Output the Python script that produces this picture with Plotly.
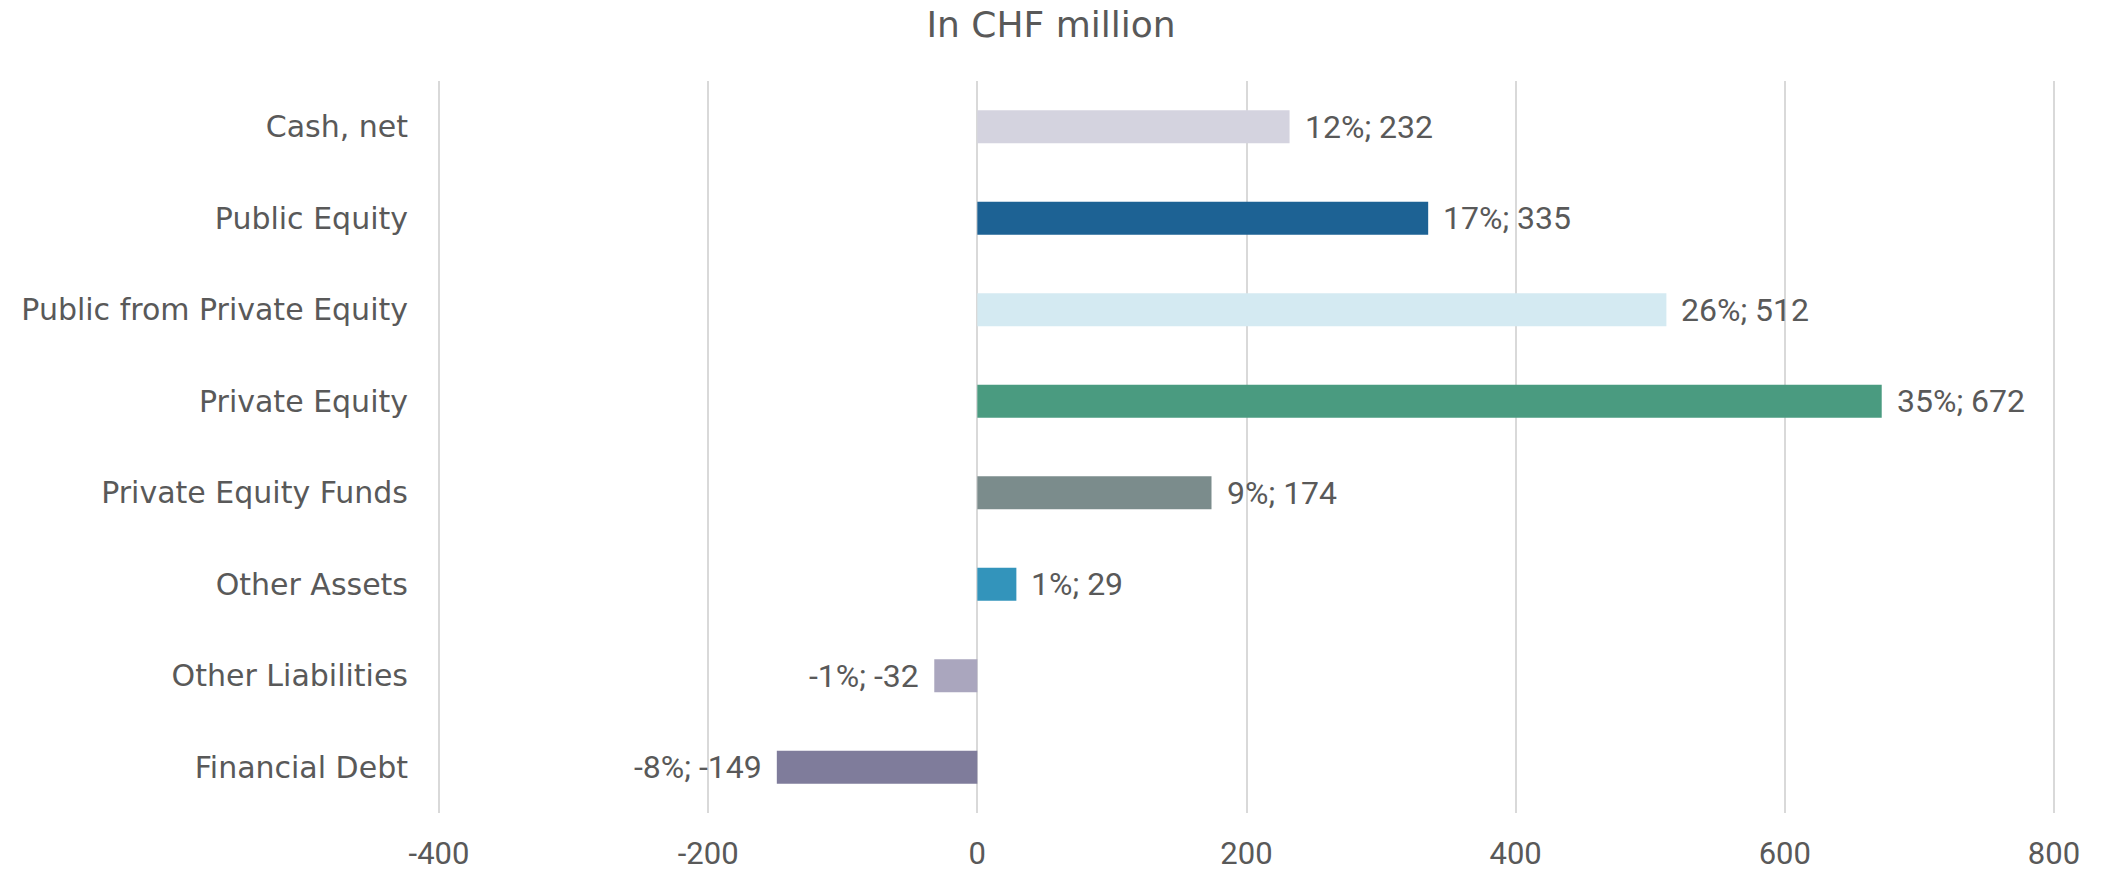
import plotly.graph_objects as go

# Net asset value breakdown
categories = [
    "Cash, net",
    "Public Equity",
    "Public from Private Equity",
    "Private Equity",
    "Private Equity Funds",
    "Other Assets",
    "Other Liabilities",
    "Financial Debt",
]
values = [232, 335, 512, 672, 174, 29, -32, -149]
shares = [12, 17, 26, 35, 9, 1, -1, -8]
colors = ["#D4D3DF", "#1D6294", "#D4EAF2", "#4A9B80",
          "#7B8C8C", "#3394BB", "#AAA6BE", "#7F7C9B"]
x_ticks = [-400, -200, 0, 200, 400, 600, 800]

TEXT_GRAY = "#595959"
GRID_GRAY = "#D9D9D9"

fig = go.Figure()
fig.add_trace(go.Bar(
    y=categories,
    x=values,
    orientation="h",
    marker_color=colors,
    marker_line_width=0,
    width=0.36,
    showlegend=False,
))

# value labels next to each bar
for cat, v, s in zip(categories, values, shares):
    fig.add_annotation(
        x=v, y=cat,
        text=f"{s}%; {v}",
        showarrow=False,
        xanchor="left" if v >= 0 else "right",
        xshift=13 if v >= 0 else -13,
        font=dict(family="Roboto", size=32, color=TEXT_GRAY),
    )

fig.update_layout(
    width=2102, height=873,
    margin=dict(l=437, r=46, t=81, b=60),
    plot_bgcolor="white",
    paper_bgcolor="white",
    title=dict(
        text="In CHF million",
        x=0.5, xanchor="center",
        y=0.9725, yanchor="middle",
        font=dict(family="DejaVu Sans", size=36, color=TEXT_GRAY),
    ),
)

fig.update_xaxes(
    range=[-401.5, 801.5],
    tickvals=x_ticks,
    ticktext=[str(t) for t in x_ticks],
    showgrid=True, gridcolor=GRID_GRAY, gridwidth=2,
    zeroline=True, zerolinecolor=GRID_GRAY, zerolinewidth=2,
    showline=False,
    ticks="",
    automargin=False,
    ticklabelstandoff=19,
    tickfont=dict(family="Roboto", size=31, color=TEXT_GRAY),
)
fig.update_yaxes(
    autorange="reversed",
    showgrid=False,
    showline=False,
    ticks="",
    automargin=False,
    ticklabelstandoff=28,
    tickfont=dict(family="DejaVu Sans", size=30, color=TEXT_GRAY),
)

# drop the default 8px body margin so the figure sits at the window corner
fig.write_html(
    "out.html",
    config={"displayModeBar": False},
    post_script="document.body.style.margin='0px';",
)
